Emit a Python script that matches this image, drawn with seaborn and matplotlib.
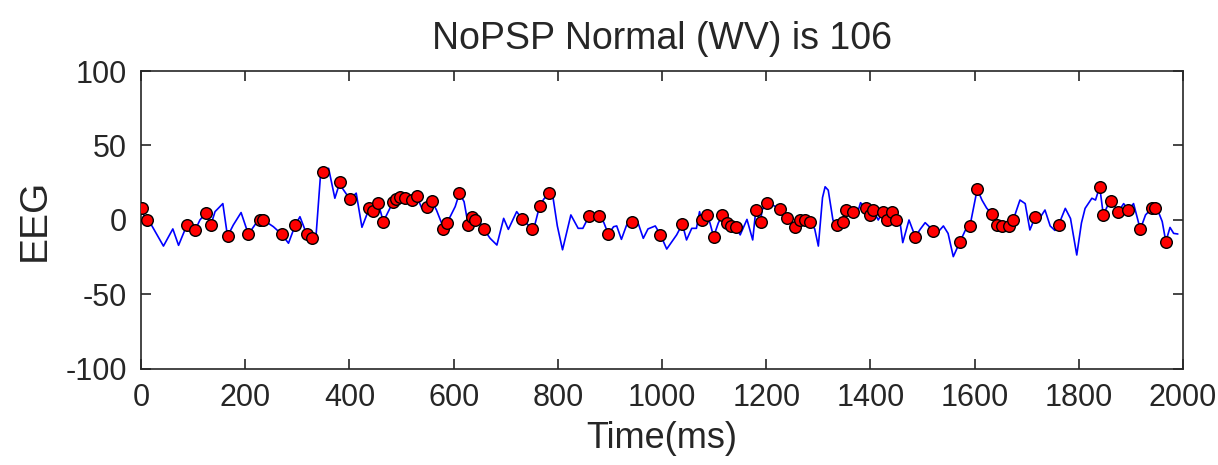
import numpy as np
import pandas as pd
import matplotlib
matplotlib.use("Agg")
import matplotlib.pyplot as plt
import seaborn as sns

# EEG trace (time in ms, amplitude)
line_t = [0, 8, 20, 43, 61, 72, 88, 104, 113, 125, 134, 142, 157, 166, 177, 192, 206, 225, 235, 254,
          270, 283, 296, 305, 318, 328, 336, 344, 349, 360, 372, 382, 387, 401, 413, 424, 438, 445, 455, 465,
          484, 497, 507, 520, 529, 539, 548, 558, 567, 577, 580, 587, 603, 611, 620, 628, 635, 641, 648, 658,
          670, 683, 696, 705, 721, 732, 742, 751, 756, 765, 773, 783, 790, 799, 809, 825, 839, 848, 860, 868,
          879, 888, 897, 907, 913, 922, 932, 943, 954, 964, 973, 987, 997, 1009, 1028, 1039, 1047, 1057, 1066, 1072,
          1076, 1086, 1092, 1099, 1108, 1116, 1125, 1132, 1142, 1150, 1163, 1174, 1180, 1189, 1192, 1201, 1208, 1226, 1239, 1255,
          1265, 1275, 1284, 1293, 1300, 1308, 1313, 1319, 1328, 1335, 1347, 1354, 1367, 1374, 1381, 1391, 1399, 1405, 1415, 1424,
          1431, 1441, 1449, 1457, 1462, 1474, 1486, 1496, 1505, 1521, 1530, 1540, 1549, 1559, 1572, 1582, 1591, 1597, 1605, 1614,
          1623, 1633, 1642, 1652, 1665, 1674, 1687, 1697, 1706, 1716, 1726, 1735, 1745, 1754, 1761, 1774, 1784, 1796, 1805, 1812,
          1825, 1832, 1840, 1847, 1857, 1862, 1876, 1886, 1895, 1905, 1918, 1928, 1940, 1950, 1960, 1967, 1975, 1982, 1990]
line_v = [8, 1, -3.4, -17.5, -6, -17, -3.4, -6.7, 0, 5, -3.4, 5.6, 11, -11, -3.4, 5, -9.6, 0, 0, -4.5,
          -9.6, -15.6, -3.4, 2.2, -9.6, -11.9, -10, 28, 32.4, 34.7, 14.6, 25.7, 21, 13.9, 18, -4.9, 7.8, 6, 11.6, -1.1,
          12.3, 15.6, 15, 13.4, 16.1, 7.8, 9, 12.7, 6.7, -2.2, -6.3, -2.2, 9, 17.9, 12.3, -3.4, 2.2, 0, 0, -6.3,
          -12.3, -16.8, 1.1, -6.3, 5.6, 0.4, -3, -6.3, -3, 9.4, 14, 17.9, 16.8, -4, -20, 3.4, -5.6, -5.6, 2.7, 0,
          2.7, -1.5, -9.6, -4.5, -4, -13, -3.4, -1.1, -2, -12.3, -6, -4, -10, -19.5, -10, -2.7, -13.4, -5.6, -5.6, 5.6,
          0, 3.4, -2, -11.2, -2, 3.4, -2.2, -4, -4.9, -10, 0.4, -13.4, 6.7, -1.1, 6.7, 11.6, 11, 7.2, 1.6, -4.9,
          0, 0, -1.1, -6, -17.5, 15, 22.3, 20, 0, -3.4, -1.1, 6.7, 5.6, 3.4, 11.6, 7.8, 3.4, 6.7, 0, 5.6,
          0, 5.6, 0, -2, -15.2, 0, -11.2, -6, -1.8, -7.2, -8, -4, -9, -24.6, -14.5, -7, -4, 6.7, 20.8, 13.4,
          8, 4, -3.4, -4, -4, 0, 13.4, 11, -6.7, 1.8, 1.8, 6.7, -4, -7, -3.4, 7.8, 1, -23.5, -2, 7.8,
          14.6, 13.4, 22.3, 3.4, 11, 12.7, 5.6, 11, 6.7, 11, -6.3, 3.4, 7.8, 7.8, -1, -14.5, -5, -9, -9.4]

# Detected events (markers)
mark_t = [1, 11, 88, 104, 125, 134, 166, 206, 228, 235, 270, 296, 318, 328, 349, 382, 401, 438, 445, 455,
          465, 484, 490, 497, 507, 520, 529, 548, 558, 580, 587, 611, 628, 635, 641, 658, 732, 751, 765, 783,
          860, 879, 897, 943, 997, 1039, 1076, 1086, 1099, 1116, 1125, 1132, 1142, 1180, 1189, 1201, 1226, 1239, 1255, 1265,
          1275, 1284, 1335, 1347, 1354, 1367, 1391, 1399, 1405, 1424, 1431, 1441, 1449, 1486, 1521, 1572, 1591, 1605, 1633, 1642,
          1652, 1665, 1674, 1716, 1761, 1840, 1847, 1862, 1876, 1895, 1918, 1940, 1947, 1967]
mark_v = [7.9, 0, -3.4, -6.7, 5, -3.4, -11, -9.6, 0, 0, -9.6, -3.4, -9.6, -11.9, 32.4, 25.7, 13.9, 7.8, 6, 11.6,
          -1.1, 12.3, 14, 15.6, 15, 13.4, 16.1, 9, 12.7, -6.3, -2.2, 17.9, -3.4, 2.2, 0, -6.3, 0.4, -6.3, 9.4, 17.9,
          2.7, 2.7, -9.6, -1.1, -10, -2.7, 0, 3.4, -11.2, 3.4, -2.2, -4, -4.9, 6.7, -1.1, 11.6, 7.2, 1.6, -4.9, 0,
          0, -1.1, -3.4, -1.1, 6.7, 5.6, 7.8, 3.4, 6.7, 5.6, 0, 5.6, 0, -11.2, -7.2, -14.5, -4, 20.8, 4, -3.4,
          -4, -4, 0, 1.8, -3.4, 22.3, 3.4, 12.7, 5.6, 6.7, -6.3, 7.8, 7.8, -14.5]

title = "NoPSP Normal (WV) is 106"
x_ticks = [0, 200, 400, 600, 800, 1000, 1200, 1400, 1600, 1800, 2000]
y_ticks = [-100, -50, 0, 50, 100]

sns.set_theme(style="white")
plt.rcParams['font.family'] = ['Liberation Sans', 'DejaVu Sans']
plt.rcParams['axes.unicode_minus'] = False
text_color = "#262626"

line_df = pd.DataFrame({"t": line_t, "v": line_v})
mark_df = pd.DataFrame({"t": mark_t, "v": mark_v})

fig = plt.figure(figsize=(12.18, 4.65), dpi=100)
ax = fig.add_axes([0.1158, 0.2065, 0.9713 - 0.1158, 0.8473 - 0.2065])

sns.lineplot(data=line_df, x="t", y="v", ax=ax, color="#0000ff", linewidth=1.2, sort=False)
sns.scatterplot(data=mark_df, x="t", y="v", ax=ax, color="#ff0000", edgecolor="black",
                linewidth=1.0, s=70, zorder=3)

ax.set_xlim(0, 2000)
ax.set_ylim(-100, 100)
ax.set_xticks(x_ticks)
ax.set_yticks(y_ticks)
ax.tick_params(axis="both", which="both", direction="in", length=7, width=1.2,
               top=True, right=True, bottom=True, left=True,
               labelsize=22, colors=text_color, pad=10)
for s in ax.spines.values():
    s.set_color(text_color)
    s.set_linewidth(1.2)
    s.set_visible(True)

ax.set_xlabel("Time(ms)", fontsize=26, color=text_color, labelpad=6)
ax.set_ylabel("EEG", fontsize=28, color=text_color, labelpad=9)
ax.set_title(title, fontsize=27, color=text_color, pad=16)

fig.savefig("out.png", dpi=100, facecolor="white")
